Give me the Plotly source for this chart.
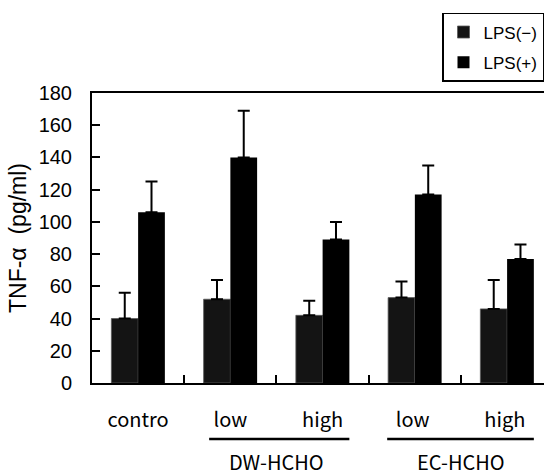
import plotly.graph_objects as go

categories = ["contro", "low", "high", "low ", "high "]
lps_minus = [40, 52, 42, 53, 46]
lps_minus_err = [16, 12, 9, 10, 18]
lps_plus = [106, 140, 89, 117, 77]
lps_plus_err = [19, 29, 11, 18, 9]
y_ticks = [0, 20, 40, 60, 80, 100, 120, 140, 160, 180]
group_labels = ["DW-HCHO", "EC-HCHO"]
group_centers = [1.5, 3.5]
group_spans = [(0.77, 2.29), (2.70, 4.29)]

FONT = "Liberation Sans, Arial, sans-serif"
LABEL_FONT = "Noto Sans CJK JP, Noto Sans, sans-serif"

fig = go.Figure()
fig.add_trace(go.Bar(
    name="LPS(\u2212)", x=categories, y=lps_minus, legendgroup="m",
    marker=dict(color="#141414", line=dict(color="#5a5a5a", width=0.8)),
    error_y=dict(type="data", array=lps_minus_err, symmetric=False,
                 arrayminus=[0]*5, color="black", thickness=2, width=6),
))
fig.add_trace(go.Bar(
    name="LPS(+)", x=categories, y=lps_plus, legendgroup="p",
    marker=dict(color="#000000", line=dict(width=0)),
    error_y=dict(type="data", array=lps_plus_err, symmetric=False,
                 arrayminus=[0]*5, color="black", thickness=2, width=6),
))

for (x0, x1) in group_spans:
    fig.add_shape(type="line", xref="x", yref="paper", x0=x0, x1=x1,
                  y0=-0.193, y1=-0.193, line=dict(color="black", width=2.5))
for lab, cx in zip(group_labels, group_centers):
    fig.add_annotation(x=cx, y=-0.272, xref="x", yref="paper", text=lab,
                       showarrow=False, font=dict(family=LABEL_FONT, size=20, color="black"),
                       xanchor="center", yanchor="middle")

fig.update_layout(
    width=544, height=475,
    margin=dict(l=92, r=0, t=93, b=92),
    paper_bgcolor="white", plot_bgcolor="white",
    barmode="group", bargap=0.42, bargroupgap=0,
    showlegend=True,
    legend=dict(x=1, y=1.038, xanchor="right", yanchor="bottom",
                bordercolor="black", borderwidth=1.5, bgcolor="white",
                font=dict(family=FONT, size=17, color="black"),
                itemwidth=30, tracegroupgap=5),
    font=dict(family=FONT, color="black"),
)
fig.update_xaxes(
    type="category", range=[-0.5, 4.4], tickson="boundaries",
    ticks="inside", ticklen=8, tickwidth=2, tickcolor="black",
    showline=True, linecolor="black", linewidth=2, mirror=True,
    showgrid=False, zeroline=False,
    tickfont=dict(family=LABEL_FONT, size=20, color="black"),
    ticklabelstandoff=18,
)
fig.update_yaxes(
    range=[0, 180], tickvals=y_ticks,
    ticks="inside", ticklen=8, tickwidth=2, tickcolor="black",
    showline=True, linecolor="black", linewidth=2,
    showgrid=False, zeroline=False,
    tickfont=dict(family=FONT, size=20, color="black"),
    ticklabelstandoff=14,
    title=dict(text="TNF-\u03b1  (pg/ml)", font=dict(family=FONT, size=23, color="black"), standoff=6),
)

fig.write_html("out.html")
